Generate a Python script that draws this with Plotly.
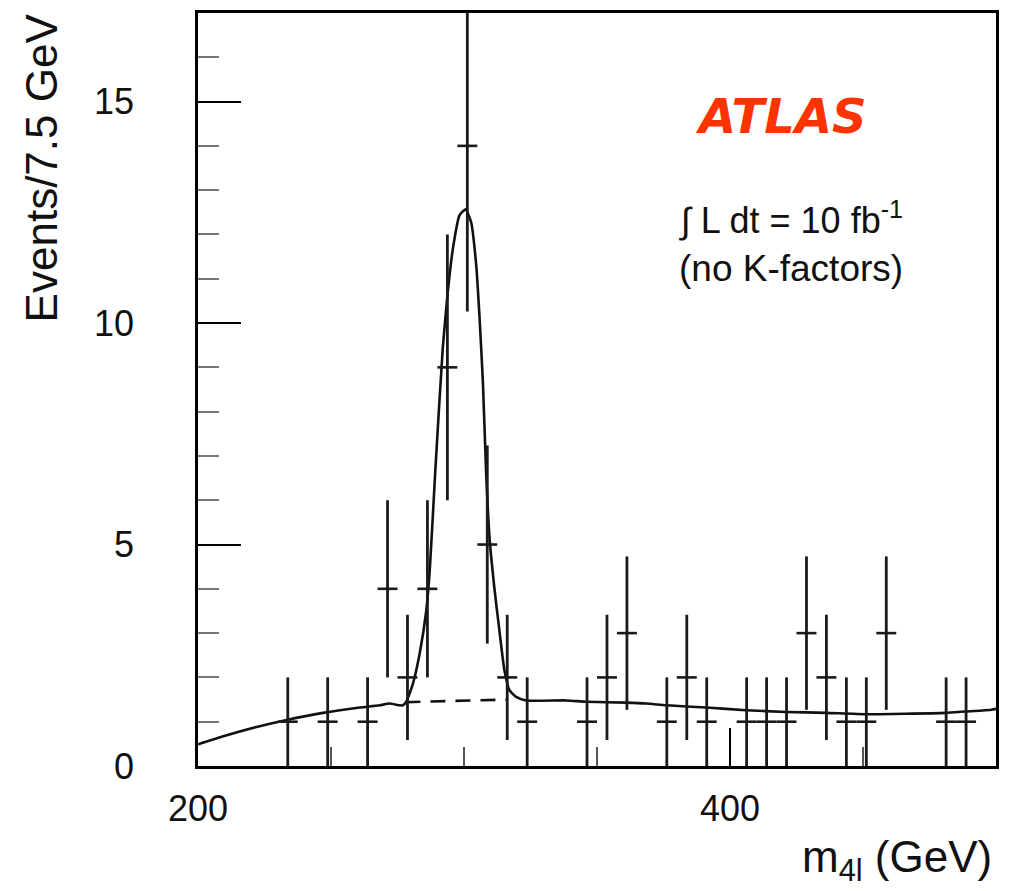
import numpy as np
import plotly.graph_objects as go

# ---- data ----
bin_width = 7.5
bin_centers = [233.75, 248.75, 263.75, 271.25, 278.75, 286.25, 293.75, 301.25, 308.75,
               316.25, 323.75, 346.25, 353.75, 361.25, 376.25, 383.75, 391.25, 406.25,
               413.75, 421.25, 428.75, 436.25, 443.75, 451.25, 458.75, 481.25, 488.75]
counts = [1, 1, 1, 4, 2, 4, 9, 14, 5,
          2, 1, 1, 2, 3, 1, 2, 1, 1,
          1, 1, 3, 2, 1, 1, 3, 1, 1]

fit_x = [200, 209.5, 222, 233.3, 247, 259.5, 268.3, 272, 275.8, 277.0, 278.3, 280.8, 283.3,
         285.8, 287.1, 289.2, 292.0, 293.9, 295.8, 298.3, 300.6, 302.7, 304.6, 305.8, 307.1,
         308.3, 309.6, 311.4, 313.3, 315.2, 317.1, 319.6, 323.3, 338.4, 346.1, 361, 368.5,
         376.1, 391.1, 406, 421, 436, 451, 466, 481, 488.4, 498.4, 500]
fit_y = [0.49, 0.67, 0.88, 1.04, 1.20, 1.31, 1.37, 1.41, 1.37, 1.37, 1.45, 1.86, 2.53,
         3.5, 4.4, 6.65, 9.42, 10.7, 11.67, 12.43, 12.57, 12.27, 11.3, 10.17, 8.67,
         6.65, 5.15, 4.03, 3.06, 2.16, 1.71, 1.56, 1.48, 1.48, 1.45, 1.43, 1.41,
         1.37, 1.32, 1.26, 1.22, 1.20, 1.17, 1.18, 1.20, 1.23, 1.27, 1.29]

bkg_x = [278.0, 297.0, 316.0]
bkg_y = [1.44, 1.47, 1.50]

x_ticks = [200, 400]
y_ticks = [0, 5, 10, 15]

# ---- figure ----
ink = "#111111"
fig = go.Figure()

fig.add_trace(go.Scatter(
    x=fit_x, y=fit_y, mode="lines",
    line=dict(color=ink, width=2.6, shape="spline", smoothing=0.5),
    hoverinfo="skip", showlegend=False))

fig.add_trace(go.Scatter(
    x=bkg_x, y=bkg_y, mode="lines",
    line=dict(color=ink, width=2.6, dash="15px,10px"),
    hoverinfo="skip", showlegend=False))

errs = np.sqrt(np.array(counts, dtype=float))
fig.add_trace(go.Scatter(
    x=bin_centers, y=counts, mode="markers",
    marker=dict(size=1, color=ink),
    error_y=dict(type="data", array=errs, symmetric=True, width=0, thickness=2.8, color="#1a1a1a"),
    error_x=dict(type="constant", value=bin_width / 2, width=0, thickness=2.6, color="#1a1a1a"),
    showlegend=False))

font_family = "Liberation Sans, Arial, sans-serif"

L, T, W, H = 198, 10, 798, 756  # plot area in page pixels


def px(xp):
    return (xp - L) / W


def py(yp):
    return 1 - (yp - T) / H


fig.update_layout(
    width=1013, height=891,
    margin=dict(l=L, r=1013 - L - W, t=T, b=891 - T - H),
    paper_bgcolor="white", plot_bgcolor="white",
    font=dict(family=font_family, color="black"),
    xaxis=dict(
        range=[200, 500], tickvals=x_ticks, ticktext=[str(v) for v in x_ticks],
        ticks="inside", ticklen=38, tickwidth=2, tickcolor="black",
        minor=dict(dtick=50, tick0=200, ticks="inside", ticklen=19, tickwidth=2, tickcolor="#555"),
        showline=True, linewidth=2.6, linecolor="black", mirror=True,
        showgrid=False, zeroline=False,
        tickfont=dict(size=36, family=font_family, color="#111"),
        ticklabelstandoff=9,
    ),
    yaxis=dict(
        range=[0, 17], tickvals=y_ticks, ticktext=[str(v) for v in y_ticks],
        ticks="inside", ticklen=43, tickwidth=2, tickcolor="black",
        minor=dict(dtick=1, tick0=0, ticks="inside", ticklen=21, tickwidth=2, tickcolor="#777"),
        showline=True, linewidth=2.6, linecolor="black", mirror=True,
        showgrid=False, zeroline=False,
        tickfont=dict(size=36, family=font_family, color="#111"),
        ticklabelstandoff=54,
    ),
    annotations=[
        dict(text="Events/7.5 GeV", textangle=-90, xref="paper", yref="paper",
             x=px(41), y=py(166),
             xanchor="center", yanchor="middle", showarrow=False,
             font=dict(size=44, family=font_family, color="#111")),
        dict(text="m<sub>4l</sub> (GeV)", xref="paper", yref="paper",
             x=px(994), y=py(860),
             xanchor="right", yanchor="middle", showarrow=False,
             font=dict(size=44, family=font_family, color="#111")),
        dict(text="ATLAS", xref="paper", yref="paper",
             x=px(781), y=py(113),
             xanchor="center", yanchor="middle", showarrow=False,
             font=dict(size=48, family="DejaVu Sans, sans-serif", color="#FF3300",
                       weight="bold", style="italic")),
        dict(text="\u222b L dt = 10 fb<sup>-1</sup>", xref="paper", yref="paper",
             x=px(677), y=py(216),
             xanchor="left", yanchor="middle", showarrow=False,
             font=dict(size=36, family=font_family, color="#111")),
        dict(text="(no K-factors)", xref="paper", yref="paper",
             x=px(677), y=py(267),
             xanchor="left", yanchor="middle", showarrow=False,
             font=dict(size=37, family=font_family, color="#111")),
    ],
)

fig.write_html("out.html", config={"displayModeBar": False},
               post_script="document.body.style.margin='0';")
